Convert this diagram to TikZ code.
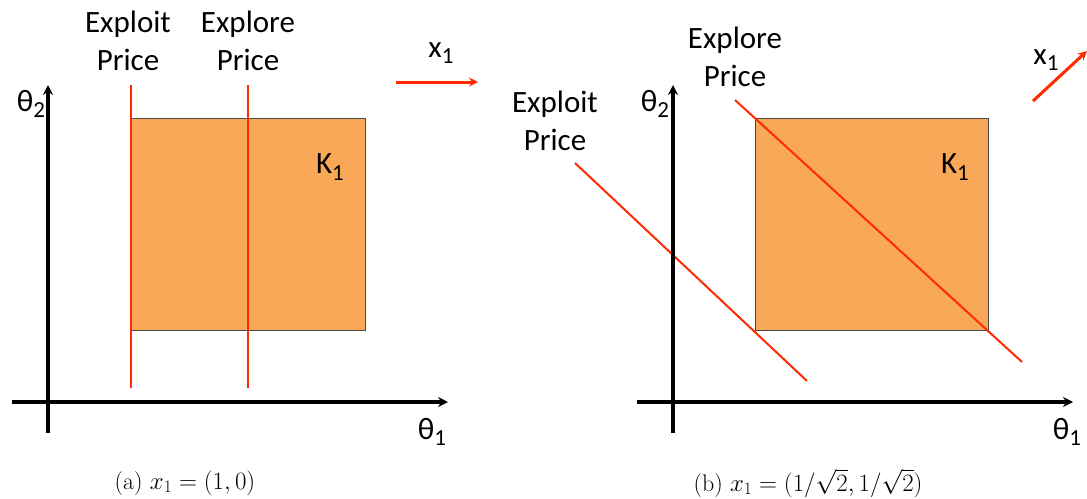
\documentclass[tikz,border=0pt]{standalone}
\usepackage{amsmath}
\usepackage{fontspec}
\usepackage{tikz}
\usetikzlibrary{arrows.meta}
\newfontfamily\calib{Carlito}
\newcommand{\lsub}[1]{\raisebox{-0.45ex}{\fontsize{23}{23}\selectfont #1}}
\definecolor{kfill}{HTML}{F9A857}
\definecolor{pline}{HTML}{FF2A00}

\begin{document}
\begin{tikzpicture}[x=1pt,y=-1pt,
    axis/.style={line width=3.4pt,-{Stealth[length=10pt,width=10pt]}},
    price/.style={pline,line width=2pt},
    dirarrow/.style={pline,line width=3pt,-{Stealth[length=9pt,width=9pt]}},
    lab/.style={font=\calib\fontsize{31}{38}\selectfont,align=center,inner sep=0pt},
    subcap/.style={font=\fontsize{24}{27}\selectfont,inner sep=0pt}]
  \useasboundingbox (0,0) rectangle (1087,498);
  % (a) horizontal x_1
  \coordinate (ao) at (12,402);   \coordinate (ae) at (448,402);
  \coordinate (as) at (48,433);   \coordinate (an) at (48,85);
  \filldraw[fill=kfill,draw=black!70,line width=1pt] (131,118) rectangle (365,330);
  \coordinate (ea1) at (131,85);  \coordinate (ea2) at (131,388);
  \coordinate (ra1) at (248,85);  \coordinate (ra2) at (248,388);
  \draw[price] (ea1) -- (ea2);
  \draw[price] (ra1) -- (ra2);
  \draw[axis] (ao) -- (ae);
  \draw[axis] (as) -- (an);
  \node[lab] (exa) at (128,41) {Exploit\\Price};
  \node[lab] (xpa) at (248,41) {Explore\\Price};
  \node[lab] (ka) at (330,167) {K\lsub{1}};
  \node[lab] (t2a) at (31,104) {θ\lsub{2}};
  \node[lab] (t1a) at (432,432) {θ\lsub{1}};
  \coordinate (xs1) at (396,82);  \coordinate (xe1) at (478,82);
  \draw[dirarrow] (xs1) -- (xe1);
  \node[lab] (xa) at (441,53) {x\lsub{1}};
  \node[subcap] (capa) at (185,483) {(a) $x_1=(1,0)$};
  % (b) diagonal x_1
  \coordinate (bo) at (637,402);  \coordinate (be) at (1073,402);
  \coordinate (bs) at (673,433);  \coordinate (bn) at (673,85);
  \filldraw[fill=kfill,draw=black!70,line width=1pt] (755,118) rectangle (988,330);
  \coordinate (eb1) at (575,163); \coordinate (eb2) at (807,381);
  \coordinate (rb1) at (735,100); \coordinate (rb2) at (1022,362);
  \draw[price] (eb1) -- (eb2);
  \draw[price] (rb1) -- (rb2);
  \draw[axis] (bo) -- (be);
  \draw[axis] (bs) -- (bn);
  \node[lab] (exb) at (555,121) {Exploit\\Price};
  \node[lab] (xpb) at (735,57) {Explore\\Price};
  \node[lab] (kb) at (955,167) {K\lsub{1}};
  \node[lab] (t2b) at (655,104) {θ\lsub{2}};
  \node[lab] (t1b) at (1067,432) {θ\lsub{1}};
  \coordinate (xs2) at (1033,101); \coordinate (xe2) at (1087,51);
  \draw[dirarrow] (xs2) -- (xe2);
  \node[lab] (xb) at (1046,60) {x\lsub{1}};
  \node[subcap] (capb) at (808,483) {(b) $x_1=(1/\sqrt{2},1/\sqrt{2})$};
\end{tikzpicture}
\end{document}
